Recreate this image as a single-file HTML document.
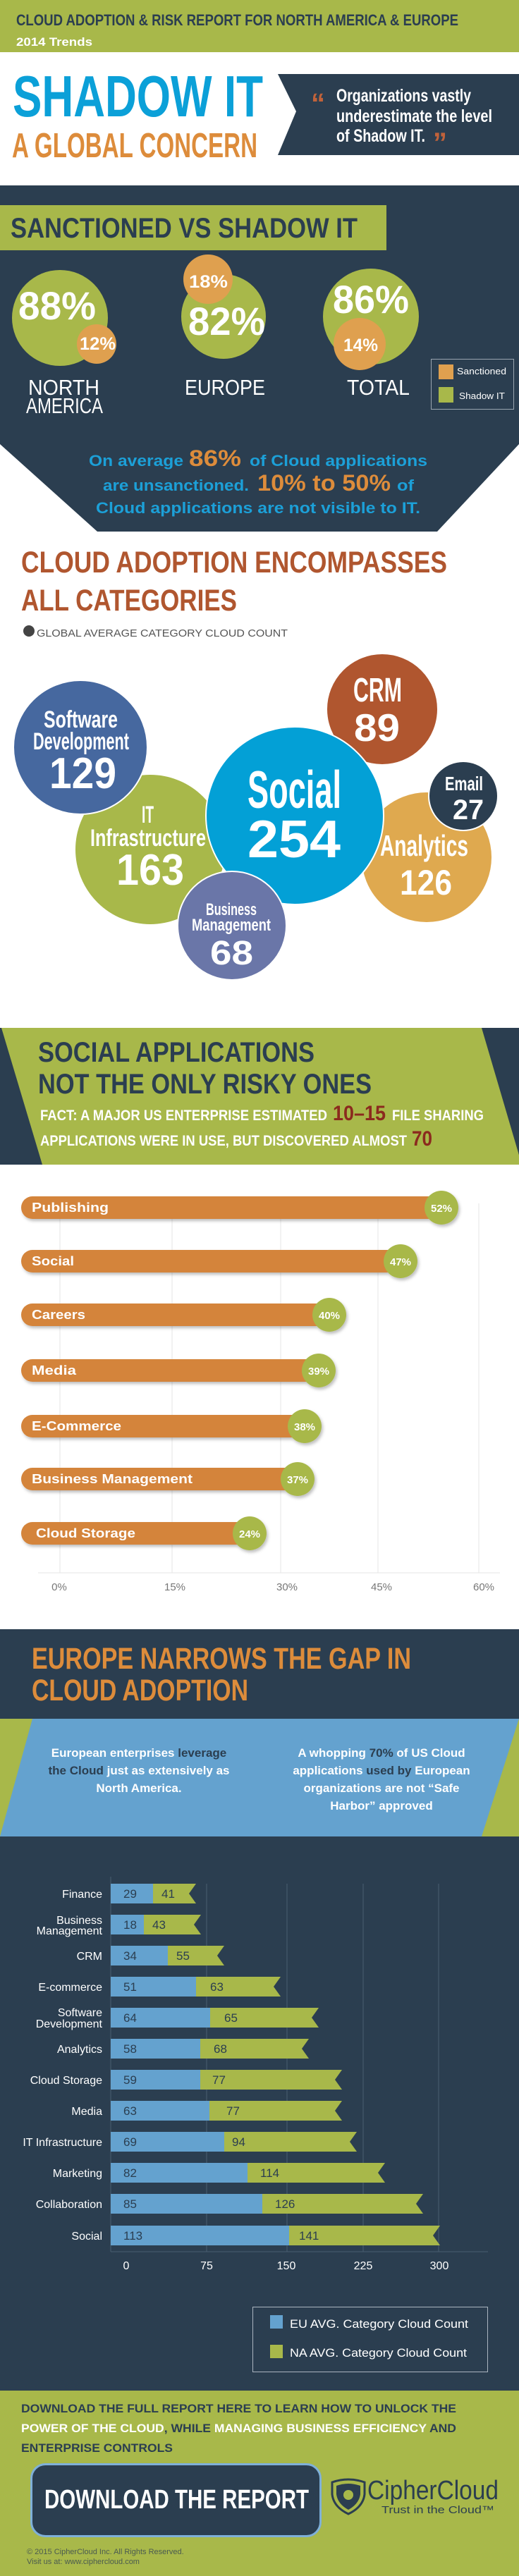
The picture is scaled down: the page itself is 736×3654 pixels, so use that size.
<!DOCTYPE html>
<html><head><meta charset="utf-8"><style>
html,body{margin:0;padding:0;background:#fff;}
svg{display:block;}
.n{font-family:"Liberation Sans Narrow","Liberation Sans",sans-serif;font-weight:bold;}
.s{font-family:"Liberation Sans",sans-serif;}
</style></head><body>
<svg width="736" height="3654" viewBox="0 0 736 3654" xmlns="http://www.w3.org/2000/svg">
<defs>
<filter id="sh" x="-20%" y="-20%" width="150%" height="160%"><feDropShadow dx="2" dy="3" stdDeviation="2" flood-color="#000" flood-opacity="0.25"/></filter>
</defs>
<rect width="736" height="3654" fill="#fff"/>
<!-- header -->
<rect x="0" y="0" width="736" height="74" fill="#a8b84a"/>
<text class="n" x="23" y="36" font-size="22" fill="#2b3e50" textLength="627" lengthAdjust="spacingAndGlyphs">CLOUD ADOPTION &amp; RISK REPORT FOR NORTH AMERICA &amp; EUROPE</text>
<text class="s" x="23" y="65" font-size="17" font-weight="bold" fill="#fff" textLength="108" lengthAdjust="spacingAndGlyphs">2014 Trends</text>
<text class="n" x="18" y="165" font-size="83" fill="#0ba0d8" textLength="355" lengthAdjust="spacingAndGlyphs">SHADOW IT</text>
<text class="n" x="17" y="223" font-size="49" fill="#dd8c3b" textLength="348" lengthAdjust="spacingAndGlyphs">A GLOBAL CONCERN</text>
<polygon points="394,105 736,105 736,220 394,220 420,158" fill="#2b3e50"/>
<text class="n" x="441" y="160" font-size="40" fill="#c0623a">“</text>
<text class="n" x="477" y="144" font-size="25" fill="#fff" textLength="191" lengthAdjust="spacingAndGlyphs">Organizations vastly</text>
<text class="n" x="477" y="173" font-size="25" fill="#fff" textLength="221" lengthAdjust="spacingAndGlyphs">underestimate the level</text>
<text class="n" x="477" y="201" font-size="25" fill="#fff" textLength="126" lengthAdjust="spacingAndGlyphs">of Shadow IT.</text>
<text class="n" x="614" y="216" font-size="40" fill="#c0623a">”</text>
<!-- dark section 1 -->
<polygon points="0,263 736,263 736,630 620,754 138,754 0,630" fill="#2b3e50"/>
<rect x="0" y="291" width="548" height="64" fill="#a8b84a"/>
<text class="n" x="15" y="337" font-size="40" fill="#2b3e50" textLength="492" lengthAdjust="spacingAndGlyphs">SANCTIONED VS SHADOW IT</text>
<circle cx="85" cy="451" r="68" fill="#a8b84a"/>
<circle cx="137" cy="488" r="28" fill="#dfa04f"/>
<text class="n" x="26" y="453" font-size="56" fill="#fff" textLength="110" lengthAdjust="spacingAndGlyphs">88%</text>
<text class="n" x="113" y="496" font-size="25" fill="#fff" textLength="51" lengthAdjust="spacingAndGlyphs">12%</text>
<circle cx="317" cy="449" r="60" fill="#a8b84a"/>
<circle cx="295" cy="396" r="35" fill="#dfa04f"/>
<text class="n" x="268" y="408" font-size="25" fill="#fff" textLength="55" lengthAdjust="spacingAndGlyphs">18%</text>
<text class="n" x="267" y="475" font-size="56" fill="#fff" textLength="109" lengthAdjust="spacingAndGlyphs">82%</text>
<circle cx="526" cy="449" r="68" fill="#a8b84a"/>
<circle cx="510" cy="488" r="37" fill="#dfa04f"/>
<text class="n" x="472" y="444" font-size="56" fill="#fff" textLength="108" lengthAdjust="spacingAndGlyphs">86%</text>
<text class="n" x="487" y="498" font-size="25" fill="#fff" textLength="49" lengthAdjust="spacingAndGlyphs">14%</text>
<g class="s" font-size="31" fill="#fff">
<text x="40" y="560" textLength="101" lengthAdjust="spacingAndGlyphs">NORTH</text>
<text x="37" y="586" textLength="109" lengthAdjust="spacingAndGlyphs">AMERICA</text>
<text x="262" y="560" textLength="114" lengthAdjust="spacingAndGlyphs">EUROPE</text>
<text x="492" y="560" textLength="89" lengthAdjust="spacingAndGlyphs">TOTAL</text>
</g>
<rect x="611.5" y="509.5" width="117" height="71" fill="none" stroke="#9aa5b0" stroke-width="1"/>
<rect x="622" y="517" width="21" height="21" fill="#dfa04f"/>
<rect x="622" y="549" width="21" height="22" fill="#a8b84a"/>
<text class="s" x="648" y="531" font-size="13" fill="#fff" textLength="70" lengthAdjust="spacingAndGlyphs">Sanctioned</text>
<text class="s" x="651" y="566" font-size="13" fill="#fff" textLength="65" lengthAdjust="spacingAndGlyphs">Shadow IT</text>
<g class="s" font-weight="bold" font-size="22" fill="#1ca0d8">
<text x="126" y="661" textLength="134" lengthAdjust="spacingAndGlyphs">On average</text>
<text x="268" y="661" font-size="32" fill="#dd8c3b" textLength="74" lengthAdjust="spacingAndGlyphs">86%</text>
<text x="354" y="661" textLength="252" lengthAdjust="spacingAndGlyphs">of Cloud applications</text>
<text x="146" y="696" textLength="207" lengthAdjust="spacingAndGlyphs">are unsanctioned.</text>
<text x="365" y="696" font-size="32" fill="#dd8c3b" textLength="189" lengthAdjust="spacingAndGlyphs">10% to 50%</text>
<text x="563" y="696" textLength="24" lengthAdjust="spacingAndGlyphs">of</text>
<text x="136" y="728" textLength="460" lengthAdjust="spacingAndGlyphs">Cloud applications are not visible to IT.</text>
</g>
<!-- section 2 -->
<text class="n" x="30" y="812" font-size="43" fill="#b0562f" textLength="604" lengthAdjust="spacingAndGlyphs">CLOUD ADOPTION ENCOMPASSES</text>
<text class="n" x="30" y="866" font-size="43" fill="#b0562f" textLength="306" lengthAdjust="spacingAndGlyphs">ALL CATEGORIES</text>
<circle cx="41" cy="895" r="8" fill="#444"/>
<text class="s" x="52" y="903" font-size="15" fill="#555" textLength="356" lengthAdjust="spacingAndGlyphs">GLOBAL AVERAGE CATEGORY CLOUD COUNT</text>
<g stroke="#fff" stroke-width="2">
<circle cx="213" cy="1205" r="107" fill="#a8b84a"/>
<circle cx="114" cy="1060" r="95" fill="#46689f"/>
<circle cx="542" cy="1006" r="79" fill="#b0562f"/>
<circle cx="605" cy="1216" r="93" fill="#dfa94f"/>
<circle cx="657" cy="1129" r="49" fill="#2b3e50"/>
<circle cx="418" cy="1157" r="126" fill="#03a0d6"/>
<circle cx="329" cy="1313" r="77" fill="#6a76a8"/>
</g>
<g class="n" fill="#fff">
<text x="62" y="1032" font-size="34" textLength="105" lengthAdjust="spacingAndGlyphs">Software</text>
<text x="47" y="1063" font-size="34" textLength="136" lengthAdjust="spacingAndGlyphs">Development</text>
<text x="70" y="1118" font-size="62" textLength="95" lengthAdjust="spacingAndGlyphs">129</text>
<text x="201" y="1167" font-size="34" textLength="17" lengthAdjust="spacingAndGlyphs">IT</text>
<text x="128" y="1200" font-size="34" textLength="164" lengthAdjust="spacingAndGlyphs">Infrastructure</text>
<text x="165" y="1255" font-size="62" textLength="96" lengthAdjust="spacingAndGlyphs">163</text>
<text x="351" y="1146" font-size="75" textLength="133" lengthAdjust="spacingAndGlyphs">Social</text>
<text x="351" y="1216" font-size="75" textLength="132" lengthAdjust="spacingAndGlyphs">254</text>
<text x="501" y="995" font-size="48" textLength="69" lengthAdjust="spacingAndGlyphs">CRM</text>
<text x="502" y="1051" font-size="55" textLength="65" lengthAdjust="spacingAndGlyphs">89</text>
<text x="631" y="1121" font-size="28" textLength="54" lengthAdjust="spacingAndGlyphs">Email</text>
<text x="642" y="1162" font-size="40" textLength="44" lengthAdjust="spacingAndGlyphs">27</text>
<text x="539" y="1214" font-size="42" textLength="125" lengthAdjust="spacingAndGlyphs">Analytics</text>
<text x="567" y="1269" font-size="50" textLength="74" lengthAdjust="spacingAndGlyphs">126</text>
<text x="292" y="1298" font-size="24" textLength="72" lengthAdjust="spacingAndGlyphs">Business</text>
<text x="272" y="1320" font-size="24" textLength="112" lengthAdjust="spacingAndGlyphs">Management</text>
<text x="298" y="1368" font-size="48" textLength="61" lengthAdjust="spacingAndGlyphs">68</text>
</g>
<!-- section 3 banner -->
<rect x="0" y="1458" width="736" height="194" fill="#2b3e50"/>
<polygon points="2,1458 683,1458 740,1652 60,1652" fill="#a8b84a"/>
<text class="n" x="54" y="1506" font-size="40" fill="#2b3e50" textLength="392" lengthAdjust="spacingAndGlyphs">SOCIAL APPLICATIONS</text>
<text class="n" x="54" y="1551" font-size="40" fill="#2b3e50" textLength="473" lengthAdjust="spacingAndGlyphs">NOT THE ONLY RISKY ONES</text>
<g class="n" fill="#fff" font-size="21">
<text x="57" y="1589" textLength="407" lengthAdjust="spacingAndGlyphs">FACT: A MAJOR US ENTERPRISE ESTIMATED</text>
<text x="472" y="1589" font-size="30" fill="#8b2a1e" textLength="75" lengthAdjust="spacingAndGlyphs">10–15</text>
<text x="556" y="1589" textLength="130" lengthAdjust="spacingAndGlyphs">FILE SHARING</text>
<text x="57" y="1625" textLength="520" lengthAdjust="spacingAndGlyphs">APPLICATIONS WERE IN USE, BUT DISCOVERED ALMOST</text>
<text x="584" y="1625" font-size="30" fill="#8b2a1e" textLength="29" lengthAdjust="spacingAndGlyphs">70</text>
</g>
<!-- bar chart -->
<g stroke="#e6e6e6" stroke-width="1">
<line x1="85" y1="1707" x2="85" y2="2231"/><line x1="244" y1="1707" x2="244" y2="2231"/>
<line x1="398" y1="1707" x2="398" y2="2231"/><line x1="536" y1="1707" x2="536" y2="2231"/>
<line x1="679" y1="1707" x2="679" y2="2231"/><line x1="54" y1="2231" x2="709" y2="2231"/>
</g>
<g class="s" font-size="15" fill="#777" text-anchor="middle">
<text x="84" y="2256">0%</text><text x="248" y="2256">15%</text><text x="407" y="2256">30%</text><text x="541" y="2256">45%</text><text x="686" y="2256">60%</text>
</g>
<g filter="url(#sh)">
<rect x="30" y="1697" width="596" height="32" rx="16" fill="#d4843a"/>
<rect x="30" y="1773" width="538" height="32" rx="16" fill="#d4843a"/>
<rect x="30" y="1849" width="437" height="32" rx="16" fill="#d4843a"/>
<rect x="30" y="1928" width="422" height="32" rx="16" fill="#d4843a"/>
<rect x="30" y="2007" width="402" height="32" rx="16" fill="#d4843a"/>
<rect x="30" y="2082" width="392" height="32" rx="16" fill="#d4843a"/>
<rect x="30" y="2159" width="324" height="32" rx="16" fill="#d4843a"/>
<circle cx="626" cy="1713" r="24" fill="#a8b84a"/>
<circle cx="568" cy="1789" r="24" fill="#a8b84a"/>
<circle cx="467" cy="1865" r="24" fill="#a8b84a"/>
<circle cx="452" cy="1944" r="24" fill="#a8b84a"/>
<circle cx="432" cy="2023" r="24" fill="#a8b84a"/>
<circle cx="422" cy="2098" r="24" fill="#a8b84a"/>
<circle cx="354" cy="2175" r="24" fill="#a8b84a"/>
</g>
<g class="s" font-weight="bold" font-size="18" fill="#fff">
<text x="45" y="1719" textLength="109" lengthAdjust="spacingAndGlyphs">Publishing</text>
<text x="45" y="1795" textLength="60" lengthAdjust="spacingAndGlyphs">Social</text>
<text x="45" y="1871" textLength="76" lengthAdjust="spacingAndGlyphs">Careers</text>
<text x="45" y="1950" textLength="63" lengthAdjust="spacingAndGlyphs">Media</text>
<text x="45" y="2029" textLength="127" lengthAdjust="spacingAndGlyphs">E-Commerce</text>
<text x="45" y="2104" textLength="228" lengthAdjust="spacingAndGlyphs">Business Management</text>
<text x="51" y="2181" textLength="141" lengthAdjust="spacingAndGlyphs">Cloud Storage</text>
</g>
<g class="s" font-weight="bold" font-size="15" fill="#fff" text-anchor="middle">
<text x="626" y="1719">52%</text><text x="568" y="1795">47%</text><text x="467" y="1871">40%</text>
<text x="452" y="1950">39%</text><text x="432" y="2029">38%</text><text x="422" y="2104">37%</text><text x="354" y="2181">24%</text>
</g>
<!-- section 4 -->
<rect x="0" y="2311" width="736" height="1080" fill="#2b3e50"/>
<text class="n" x="45" y="2367" font-size="43" fill="#dd8c3b" textLength="538" lengthAdjust="spacingAndGlyphs">EUROPE NARROWS THE GAP IN</text>
<text class="n" x="45" y="2412" font-size="43" fill="#dd8c3b" textLength="307" lengthAdjust="spacingAndGlyphs">CLOUD ADOPTION</text>
<rect x="0" y="2438" width="736" height="167" fill="#64a2cf"/>
<polygon points="0,2438 46,2438 0,2605" fill="#a8b84a"/>
<polygon points="736,2438 736,2605 683,2605" fill="#a8b84a"/>
<g class="s" font-weight="bold" font-size="17" fill="#fff" text-anchor="middle">
<text x="197" y="2492">European enterprises <tspan fill="#2b3e50">leverage</tspan></text>
<text x="197" y="2517"><tspan fill="#2b3e50">the Cloud</tspan> just as extensively as</text>
<text x="197" y="2542">North America.</text>
<text x="541" y="2492">A whopping <tspan fill="#2b3e50">70%</tspan> of US Cloud</text>
<text x="541" y="2517">applications <tspan fill="#2b3e50">used by</tspan> European</text>
<text x="541" y="2542">organizations are not “Safe</text>
<text x="541" y="2567">Harbor” approved</text>
</g>
<g stroke="#4a5d70" stroke-width="1">
<line x1="293" y1="2672" x2="293" y2="3194"/><line x1="407" y1="2672" x2="407" y2="3194"/>
<line x1="515" y1="2672" x2="515" y2="3194"/><line x1="622" y1="2672" x2="622" y2="3194"/>
<line x1="157" y1="2662" x2="157" y2="3194"/><line x1="157" y1="3194" x2="692" y2="3194"/>
</g>
<g id="bars">
<rect x="157" y="2672" width="60" height="28" fill="#64a2cf"/><path d="M217 2672H278L268 2686L278 2700H217Z" fill="#a8b84a"/>
<rect x="157" y="2716" width="47" height="28" fill="#64a2cf"/><path d="M204 2716H285L275 2730L285 2744H204Z" fill="#a8b84a"/>
<rect x="157" y="2760" width="81" height="28" fill="#64a2cf"/><path d="M238 2760H318L308 2774L318 2788H238Z" fill="#a8b84a"/>
<rect x="157" y="2804" width="121" height="28" fill="#64a2cf"/><path d="M278 2804H398L388 2818L398 2832H278Z" fill="#a8b84a"/>
<rect x="157" y="2848" width="141" height="28" fill="#64a2cf"/><path d="M298 2848H452L442 2862L452 2876H298Z" fill="#a8b84a"/>
<rect x="157" y="2892" width="127" height="28" fill="#64a2cf"/><path d="M284 2892H438L428 2906L438 2920H284Z" fill="#a8b84a"/>
<rect x="157" y="2936" width="127" height="28" fill="#64a2cf"/><path d="M284 2936H485L475 2950L485 2964H284Z" fill="#a8b84a"/>
<rect x="157" y="2980" width="140" height="28" fill="#64a2cf"/><path d="M297 2980H485L475 2994L485 3008H297Z" fill="#a8b84a"/>
<rect x="157" y="3024" width="161" height="28" fill="#64a2cf"/><path d="M318 3024H506L496 3038L506 3052H318Z" fill="#a8b84a"/>
<rect x="157" y="3068" width="194" height="28" fill="#64a2cf"/><path d="M351 3068H546L536 3082L546 3096H351Z" fill="#a8b84a"/>
<rect x="157" y="3112" width="215" height="28" fill="#64a2cf"/><path d="M372 3112H600L590 3126L600 3140H372Z" fill="#a8b84a"/>
<rect x="157" y="3157" width="253" height="28" fill="#64a2cf"/><path d="M410 3157H624L614 3171L624 3185H410Z" fill="#a8b84a"/>
</g>
<g class="s" font-size="17" fill="#2b3e50">
<text x="175" y="2692">29</text><text x="229" y="2692">41</text>
<text x="175" y="2736">18</text><text x="216" y="2736">43</text>
<text x="175" y="2780">34</text><text x="250" y="2780">55</text>
<text x="175" y="2824">51</text><text x="298" y="2824">63</text>
<text x="175" y="2868">64</text><text x="318" y="2868">65</text>
<text x="175" y="2912">58</text><text x="303" y="2912">68</text>
<text x="175" y="2956">59</text><text x="301" y="2956">77</text>
<text x="175" y="3000">63</text><text x="321" y="3000">77</text>
<text x="175" y="3044">69</text><text x="329" y="3044">94</text>
<text x="175" y="3088">82</text><text x="369" y="3088">114</text>
<text x="175" y="3132">85</text><text x="390" y="3132">126</text>
<text x="175" y="3177">113</text><text x="424" y="3177">141</text>
</g>
<g class="s" font-size="16" fill="#fff" text-anchor="end">
<text x="145" y="2692">Finance</text>
<text x="145" y="2729">Business</text><text x="145" y="2744">Management</text>
<text x="145" y="2780">CRM</text>
<text x="145" y="2824">E-commerce</text>
<text x="145" y="2860">Software</text><text x="145" y="2876">Development</text>
<text x="145" y="2912">Analytics</text>
<text x="145" y="2956">Cloud Storage</text>
<text x="145" y="3000">Media</text>
<text x="145" y="3044">IT Infrastructure</text>
<text x="145" y="3088">Marketing</text>
<text x="145" y="3132">Collaboration</text>
<text x="145" y="3177">Social</text>
</g>
<g class="s" font-size="16" fill="#fff" text-anchor="middle">
<text x="179" y="3219">0</text><text x="293" y="3219">75</text><text x="406" y="3219">150</text><text x="515" y="3219">225</text><text x="623" y="3219">300</text>
</g>
<rect x="358.5" y="3272.5" width="333" height="92" fill="none" stroke="#aab4bf" stroke-width="1"/>
<rect x="383" y="3284" width="18" height="19" fill="#64a2cf"/>
<rect x="383" y="3326" width="18" height="19" fill="#a8b84a"/>
<text class="s" x="411" y="3302" font-size="17" fill="#fff" textLength="253" lengthAdjust="spacingAndGlyphs">EU AVG. Category Cloud Count</text>
<text class="s" x="411" y="3343" font-size="17" fill="#fff" textLength="251" lengthAdjust="spacingAndGlyphs">NA AVG. Category Cloud Count</text>
<!-- footer -->
<rect x="0" y="3391" width="736" height="263" fill="#a8b84a"/>
<g class="s" font-weight="bold" font-size="17" fill="#2b3e50">
<text x="30" y="3422" textLength="617" lengthAdjust="spacingAndGlyphs">DOWNLOAD THE FULL REPORT HERE TO LEARN HOW TO UNLOCK THE</text>
<text x="30" y="3450" textLength="617" lengthAdjust="spacingAndGlyphs"><tspan fill="#fff">POWER OF THE CLOUD</tspan>, WHILE <tspan fill="#fff">MANAGING BUSINESS EFFICIENCY</tspan> AND</text>
<text x="30" y="3478" textLength="215" lengthAdjust="spacingAndGlyphs">ENTERPRISE CONTROLS</text>
</g>
<rect x="44.5" y="3495.5" width="410" height="102" rx="20" fill="#2b3e50" stroke="#7fb0d8" stroke-width="3"/>
<text class="n" x="63" y="3558" font-size="38" fill="#fff" textLength="375" lengthAdjust="spacingAndGlyphs">DOWNLOAD THE REPORT</text>
<path d="M471 3521 Q494 3513 517 3521 L517 3538 Q515 3556 494 3566 Q473 3556 471 3538 Z" fill="none" stroke="#2b3e50" stroke-width="3"/>
<path d="M477 3526 Q494 3520 511 3526 L511 3538 Q509 3552 494 3560 Q479 3552 477 3538 Z" fill="#2b3e50"/>
<circle cx="494" cy="3539" r="7" fill="#a8b84a"/>
<text class="s" x="521" y="3545" font-size="38" fill="#2b3e50" textLength="186" lengthAdjust="spacingAndGlyphs">CipherCloud</text>
<text class="s" x="541" y="3565" font-size="15" fill="#2b3e50" textLength="160" lengthAdjust="spacingAndGlyphs">Trust in the Cloud™</text>
<text class="s" x="38" y="3623" font-size="11" fill="#4a5a50">© 2015 CipherCloud Inc. All Rights Reserved.</text>
<text class="s" x="38" y="3637" font-size="11" fill="#4a5a50">Visit us at: www.ciphercloud.com</text>
</svg>
</body></html>
